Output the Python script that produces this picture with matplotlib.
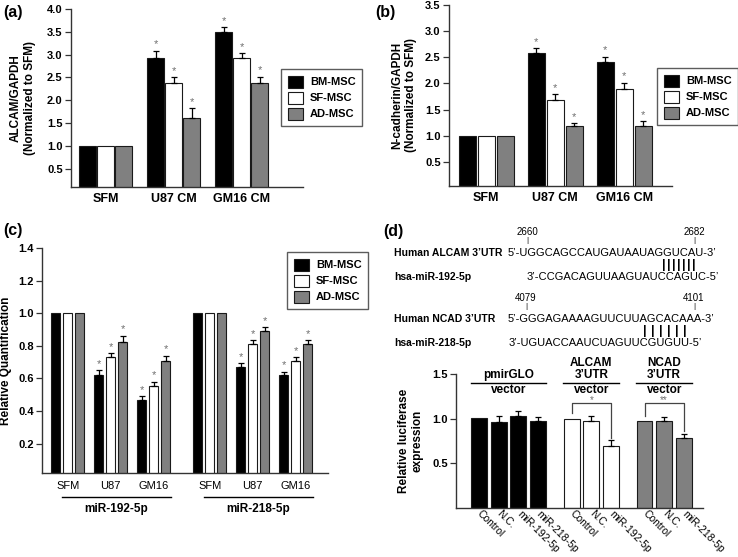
import numpy as np
import matplotlib.pyplot as plt
from matplotlib.patches import Patch
from matplotlib.transforms import blended_transform_factory

plt.rcParams['font.family'] = ['Liberation Sans', 'DejaVu Sans']
plt.rcParams['font.weight'] = 'bold'
plt.rcParams['axes.labelweight'] = 'bold'

# ---- data ----
series = ['BM-MSC', 'SF-MSC', 'AD-MSC']

a_groups = ['SFM', 'U87 CM', 'GM16 CM']
a_vals = [[1.0, 2.93, 3.49], [1.0, 2.37, 2.93], [1.0, 1.62, 2.37]]
a_err = [[0, 0.16, 0.11], [0, 0.14, 0.10], [0, 0.20, 0.15]]

b_groups = ['SFM', 'U87 CM', 'GM16 CM']
b_vals = [[1.0, 2.58, 2.41], [1.0, 1.69, 1.89], [1.0, 1.18, 1.18]]
b_err = [[0, 0.09, 0.10], [0, 0.10, 0.12], [0, 0.06, 0.10]]

c_groups = ['SFM', 'U87', 'GM16', 'SFM', 'U87', 'GM16']
c_mirs = ['miR-192-5p', 'miR-218-5p']
c_vals = [[1.0, 0.622, 0.465, 1.0, 0.669, 0.622],
          [1.0, 0.729, 0.555, 1.0, 0.814, 0.704],
          [1.0, 0.824, 0.710, 1.0, 0.890, 0.814]]
c_err = [[0, 0.027, 0.025, 0, 0.025, 0.020],
         [0, 0.024, 0.025, 0, 0.021, 0.027],
         [0, 0.037, 0.030, 0, 0.024, 0.021]]

d_labels = ['Control', 'N.C.', 'miR-192-5p', 'miR-218-5p',
            'Control', 'N.C.', 'miR-192-5p',
            'Control', 'N.C.', 'miR-218-5p']
d_vals = [1.007, 0.96, 1.033, 0.978, 1.0, 0.97, 0.69, 0.97, 0.97, 0.785]
d_err = [0, 0.066, 0.057, 0.037, 0, 0.056, 0.066, 0, 0.045, 0.045]
d_vectors = ['pmirGLO', 'ALCAM\n3\u2019UTR', 'NCAD\n3\u2019UTR']
d_sizes = [4, 3, 3]
d_brackets = [(4, 6, '*'), (7, 9, '**')]

seq_genes = ['Human ALCAM 3\u2019UTR', 'Human NCAD 3\u2019UTR']
seq_utr = ['5\u2019-UGGCAGCCAUGAUAAUAGGUCAU-3\u2019', '5\u2019-GGGAGAAAAGUUCUUAGCACAAA-3\u2019']
seq_mirs = ['hsa-miR-192-5p', 'hsa-miR-218-5p']
seq_mir_seq = ['3\u2019-CCGACAGUUAAGUAUCCAGUC-5\u2019', '3\u2019-UGUACCAAUCUAGUUCGUGUU-5\u2019']
seq_pos = [('2660', '2682'), ('4079', '4101')]
seq_pairs = [7, 6]

colors = ['black', 'white', '#808080']
edge = '#1a1a1a'
star_col = '#707070'

W, H = 738, 557


def fx(x):
    return x / W


def fy(y):
    return 1 - y / H


def box(l, t, r, b):
    return [fx(l), fy(b), (r - l) / W, (b - t) / H]


def style(ax):
    for s in ['top', 'right']:
        ax.spines[s].set_visible(False)
    for s in ['left', 'bottom']:
        ax.spines[s].set_linewidth(1.0)
        ax.spines[s].set_color('#333333')
    ax.tick_params(axis='y', direction='out', length=4, width=0.9, labelsize=8, pad=2, color='#333333')
    ax.tick_params(axis='x', length=0, labelsize=9, pad=4)


def star(ax, x, y, txt='*'):
    ax.annotate(txt, xy=(x, y), xytext=(0, 1), textcoords='offset points',
                ha='center', va='bottom', color=star_col, fontsize=8, fontweight='normal')


def grouped(ax, x, vals, errs, pitch, width):
    for i, (v, e) in enumerate(zip(vals, errs)):
        xi = x + (i - 1) * pitch
        ax.bar(xi, v, width, color=colors[i], edgecolor=edge, linewidth=0.8, zorder=2)
        v = np.array(v)
        e = np.array(e)
        m = e > 0
        ax.errorbar(xi[m], v[m], yerr=[np.zeros(m.sum()), e[m]], fmt='none', ecolor='black',
                    elinewidth=0.9, capsize=2.5, capthick=0.9, zorder=3)
        for xx, vv, ee in zip(xi[m], v[m], e[m]):
            star(ax, xx, vv + ee)


def legend(fig, l, t):
    handles = [Patch(facecolor=c, edgecolor=edge, linewidth=0.8) for c in colors]
    leg = fig.legend(handles, series, loc='upper left', bbox_to_anchor=(fx(l), fy(t)),
                     frameon=True, fancybox=False, edgecolor='#333333', borderaxespad=0,
                     handlelength=1.4, handleheight=1.3, handletextpad=0.6, labelspacing=0.35,
                     borderpad=0.6, prop={'size': 8, 'weight': 'bold'})
    leg.get_frame().set_linewidth(1.0)


fig = plt.figure(figsize=(7.38, 5.57), dpi=100)

# ---- (a) ----
ax = fig.add_axes(box(71, 9, 303, 187))
style(ax)
xa = np.arange(len(a_groups), dtype=float)
grouped(ax, xa, a_vals, a_err, 0.265, 0.245)
ax.set_xlim(-0.51, 2.9)
ax.set_ylim(0.1, 4.0)
ax.set_yticks(np.arange(0.5, 4.01, 0.5))
ax.set_yticklabels(['%.1f' % t for t in np.arange(0.5, 4.01, 0.5)])
ax.set_xticks(xa)
ax.set_xticklabels(a_groups)
ax.set_ylabel('ALCAM/GAPDH\n(Normalized to SFM)', fontsize=8.5, labelpad=8)
legend(fig, 281, 69)
fig.text(fx(3), fy(12), '(a)', fontsize=11.5, va='center')

# ---- (b) ----
ax = fig.add_axes(box(449, 5, 672, 186))
style(ax)
xb = np.arange(len(b_groups), dtype=float)
grouped(ax, xb, b_vals, b_err, 0.275, 0.245)
ax.set_xlim(-0.54, 2.69)
ax.set_ylim(0.04, 3.5)
ax.set_yticks(np.arange(0.5, 3.51, 0.5))
ax.set_yticklabels(['%.1f' % t for t in np.arange(0.5, 3.51, 0.5)])
ax.set_xticks(xb)
ax.set_xticklabels(b_groups)
ax.set_ylabel('N-cadherin/GAPDH\n(Normalized to SFM)', fontsize=8.5, labelpad=6)
legend(fig, 657, 68)
fig.text(fx(375), fy(13), '(b)', fontsize=11.5, va='center')

# ---- (c) ----
ax = fig.add_axes(box(42, 248, 328, 473))
style(ax)
xc = np.array([0, 1, 2, 3.3, 4.3, 5.3])
grouped(ax, xc, c_vals, c_err, 0.28, 0.21)
ax.set_xlim(-0.6, 6.05)
ax.set_ylim(0.02, 1.4)
ax.set_yticks(np.arange(0.2, 1.41, 0.2))
ax.set_yticklabels(['%.1f' % t for t in np.arange(0.2, 1.41, 0.2)])
ax.set_xticks(xc)
ax.set_xticklabels(c_groups, fontweight='normal', fontsize=8)
ax.tick_params(axis='x', pad=6)
ax.set_ylabel('Relative Quantification', fontsize=8.5, labelpad=4)
tr = blended_transform_factory(ax.transData, ax.transAxes)
for k, name in enumerate(c_mirs):
    g = xc[3 * k:3 * k + 3]
    ax.plot([g[0] - 0.14, g[-1] + 0.4], [-0.107, -0.107], color='black', lw=1.0,
            transform=tr, clip_on=False)
    ax.text(g.mean() + 0.13, -0.16, name, transform=tr, ha='center', va='center', fontsize=8.5)
legend(fig, 287, 252)
fig.text(fx(3), fy(231), '(c)', fontsize=11.5, va='center')

# ---- (d) sequences ----
fig.text(fx(383), fy(232), '(d)', fontsize=11.5, va='center')
blocks_y = [232, 298]
mir_x = [527, 509]
pair_x = [(664, 694), (645, 685)]
tick_x = [(527, 694), (526, 694)]
for k in range(2):
    y0 = blocks_y[k]
    for n, tx in zip(seq_pos[k], tick_x[k]):
        fig.text(fx(tx), fy(y0), n, ha='center', va='center', fontsize=7, fontweight='normal')
        fig.text(fx(tx), fy(y0 + 9), '|', ha='center', va='center', fontsize=6, fontweight='normal')
    fig.text(fx(394), fy(y0 + 21), seq_genes[k], ha='left', va='center', fontsize=7.5)
    fig.text(fx(508), fy(y0 + 21), seq_utr[k], ha='left', va='center', fontsize=8, fontweight='normal')
    for px in np.linspace(pair_x[k][0], pair_x[k][1], seq_pairs[k]):
        fig.text(fx(px), fy(y0 + 33), '|', ha='center', va='center', fontsize=9)
    fig.text(fx(394), fy(y0 + 45), seq_mirs[k], ha='left', va='center', fontsize=7.5)
    fig.text(fx(mir_x[k]), fy(y0 + 45), seq_mir_seq[k], ha='left', va='center', fontsize=8,
             fontweight='normal')

# ---- (d) luciferase ----
ax = fig.add_axes(box(456, 374, 703, 508))
style(ax)
d_groups = np.repeat(np.arange(len(d_sizes)), d_sizes)
xd = np.arange(len(d_vals)) + d_groups * 0.7
dv = np.array(d_vals)
de = np.array(d_err)
ax.bar(xd, dv, 0.81, color=[colors[g] for g in d_groups], edgecolor=edge, linewidth=0.8, zorder=2)
m = de > 0
ax.errorbar(xd[m], dv[m], yerr=[np.zeros(m.sum()), de[m]], fmt='none', ecolor='black',
            elinewidth=0.9, capsize=2.5, capthick=0.9, zorder=3)
ax.set_xlim(-1.17, 11.37)
ax.set_ylim(0, 1.5)
ax.set_yticks([0.5, 1.0, 1.5])
ax.set_yticklabels(['0.5', '1.0', '1.5'])
ax.set_xticks(xd)
ax.set_xticklabels(d_labels, rotation=-45, ha='left', va='center', rotation_mode='anchor',
                   fontweight='normal', fontsize=7.5)
ax.tick_params(axis='x', pad=3)
ax.set_ylabel('Relative luciferase\nexpression', fontsize=8.5, labelpad=6)
for g, name in enumerate(d_vectors):
    gx = xd[d_groups == g]
    ax.text(gx.mean(), 1.425, name, ha='center', va='bottom', fontsize=8.5, linespacing=1.0, clip_on=False)
    ax.plot([gx[0] - 0.42, gx[-1] + 0.42], [1.40, 1.40], color='black', lw=1.0, clip_on=False)
    ax.text(gx.mean(), 1.385, 'vector', ha='center', va='top', fontsize=8.5, clip_on=False)
for i0, i1, s in d_brackets:
    yb = 1.17
    ax.plot([xd[i0], xd[i0], xd[i1], xd[i1]],
            [dv[i0] + de[i0] + 0.06, yb, yb, dv[i1] + de[i1] + 0.03],
            color='#444444', lw=0.9, clip_on=False)
    ax.text((xd[i0] + xd[i1]) / 2, yb + 0.005, s, ha='center', va='baseline', color=star_col,
            fontsize=7, fontweight='normal')

fig.savefig('out.png', dpi=100)
